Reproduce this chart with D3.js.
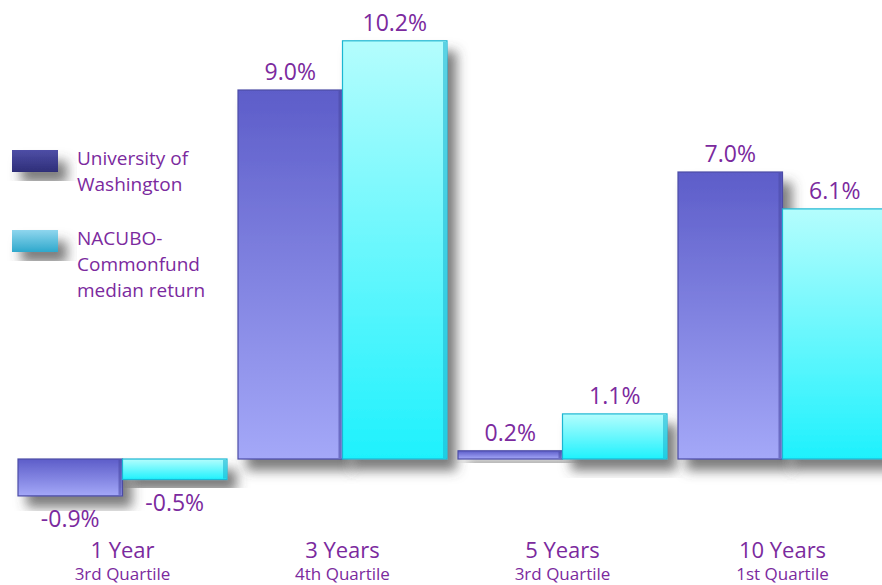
<!DOCTYPE html>
<html>
<head>
<meta charset="utf-8">
<script src="https://cdn.jsdelivr.net/npm/d3@7"></script>
<style>
  html, body { margin: 0; padding: 0; background: #fff; }
  svg { display: block; font-family: "Open Sans", "Noto Sans", sans-serif; }
</style>
</head>
<body>
<div id="chart"></div>
<script>
// periods and the quartile rank shown under each
const categories = ["1 Year", "3 Years", "5 Years", "10 Years"];
const quartiles = ["3rd Quartile", "4th Quartile", "3rd Quartile", "1st Quartile"];
const seriesNames = ["University of Washington", "NACUBO-Commonfund median return"];
const uwReturns = [-0.9, 9.0, 0.2, 7.0];
const nacuboReturns = [-0.5, 10.2, 1.1, 6.1];

const width = 882, height = 585;
const textColor = "#7b2a9e";

const svg = d3.select("#chart").append("svg")
  .attr("width", width)
  .attr("height", height);

const defs = svg.append("defs");

// soft grey shadow down and to the right of each bar
const shadow = defs.append("filter")
  .attr("id", "shadow")
  .attr("x", "-20%").attr("y", "-20%")
  .attr("width", "160%").attr("height", "160%");
shadow.append("feDropShadow")
  .attr("dx", 9).attr("dy", 11)
  .attr("stdDeviation", 6)
  .attr("flood-color", "#444")
  .attr("flood-opacity", 0.7);

function gradient(id, top, bottom) {
  let g = defs.append("linearGradient")
    .attr("id", id)
    .attr("x1", 0).attr("y1", 0).attr("x2", 0).attr("y2", 1);
  g.append("stop").attr("offset", "0%").attr("stop-color", top);
  g.append("stop").attr("offset", "100%").attr("stop-color", bottom);
}
gradient("uw", "#5d5dc9", "#a4a8f8");
gradient("nac", "#b4fdfd", "#1ef1fd");
gradient("uwLegend", "#4e4ea6", "#2e2e78");
gradient("nacLegend", "#8fd6ee", "#2ea8cc");

const fills = ["url(#uw)", "url(#nac)"];
const edges = ["#4b4ba6", "#1fb6d2"];

const x0 = d3.scaleBand()
  .domain(categories)
  .range([18, 887])
  .paddingInner(0.05)
  .paddingOuter(0);

const x1 = d3.scaleBand()
  .domain([0, 1])
  .range([0, x0.bandwidth()]);

const y = d3.scaleLinear()
  .domain([-1, 11])
  .range([500, 8]);

const rows = categories.map((c, i) => ({
  category: c,
  quartile: quartiles[i],
  values: [uwReturns[i], nacuboReturns[i]]
}));

const group = svg.selectAll("g.period")
  .data(rows)
  .join("g")
  .attr("class", "period")
  .attr("transform", d => `translate(${x0(d.category)},0)`);

const bar = group.selectAll("g.bar")
  .data(d => d.values.map((v, s) => ({v, s})))
  .join("g")
  .attr("class", "bar");

bar.append("rect")
  .attr("x", d => x1(d.s))
  .attr("y", d => y(Math.max(0, d.v)))
  .attr("width", x1.bandwidth())
  .attr("height", d => Math.abs(y(d.v) - y(0)))
  .attr("fill", d => fills[d.s])
  .attr("stroke", d => edges[d.s])
  .attr("stroke-width", 1.2)
  .attr("filter", "url(#shadow)");

// darker bevel on the right side of each bar
bar.append("rect")
  .attr("x", d => x1(d.s) + x1.bandwidth() - 4)
  .attr("y", d => y(Math.max(0, d.v)) + 1)
  .attr("width", 3)
  .attr("height", d => Math.max(0, Math.abs(y(d.v) - y(0)) - 2))
  .attr("fill", d => edges[d.s])
  .attr("opacity", 0.6);

bar.append("text")
  .attr("x", d => x1(d.s) + x1.bandwidth() / 2)
  .attr("y", d => d.v >= 0 ? y(d.v) - 10 : y(d.v) + 31)
  .attr("text-anchor", "middle")
  .attr("fill", textColor)
  .attr("font-size", 23)
  .text(d => d.v.toFixed(1) + "%");

group.append("text")
  .attr("x", x0.bandwidth() / 2)
  .attr("y", 558)
  .attr("text-anchor", "middle")
  .attr("fill", textColor)
  .attr("font-size", 22)
  .text(d => d.category);

group.append("text")
  .attr("x", x0.bandwidth() / 2)
  .attr("y", 580)
  .attr("text-anchor", "middle")
  .attr("fill", textColor)
  .attr("font-size", 17)
  .text(d => d.quartile);

// legend
const legendLines = [["University of", "Washington"], ["NACUBO-", "Commonfund", "median return"]];
const legend = svg.selectAll("g.legend")
  .data(seriesNames)
  .join("g")
  .attr("class", "legend")
  .attr("transform", (d, i) => `translate(12,${i === 0 ? 150 : 230})`);

legend.append("rect")
  .attr("width", 46)
  .attr("height", 22)
  .attr("fill", (d, i) => i === 0 ? "url(#uwLegend)" : "url(#nacLegend)")
  .attr("filter", "url(#shadow)");

legend.append("text")
  .attr("fill", textColor)
  .attr("font-size", 19)
  .selectAll("tspan")
  .data((d, i) => legendLines[i])
  .join("tspan")
  .attr("x", 65)
  .attr("y", (d, j) => 15 + j * 26)
  .text(d => d);
</script>
</body>
</html>
